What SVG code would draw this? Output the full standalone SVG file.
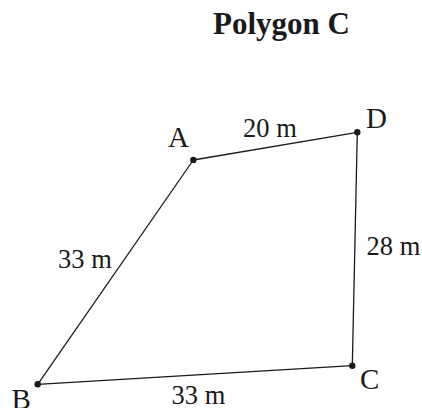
<svg xmlns="http://www.w3.org/2000/svg" width="422" height="408" viewBox="0 0 422 408">
<style>
text{font-family:"Liberation Serif","Times New Roman",serif;fill:#1a1a1a}
.t{font-weight:bold;font-size:31px}
.v{font-size:29px}
.m{font-size:26.5px}
.e{stroke:#1a1a1a;stroke-width:1.3;fill:none}
.d{fill:#1a1a1a}
</style>
<rect width="422" height="408" fill="#fff"/>
<text class="t" x="213" y="34">Polygon C</text>
<g id="connectors">
<line class="e" x1="193.3" y1="160" x2="357.3" y2="132.3"/>
<line class="e" x1="357.3" y1="132.3" x2="352.3" y2="365.7"/>
<line class="e" x1="352.3" y1="365.7" x2="37.7" y2="384.3"/>
<line class="e" x1="37.7" y1="384.3" x2="193.3" y2="160"/>
<text class="m" x="243" y="137">20 m</text>
<text class="m" x="366.5" y="255">28 m</text>
<text class="m" x="171.5" y="404">33 m</text>
<text class="m" x="58" y="268">33 m</text>
</g>
<g id="A"><circle class="d" cx="193.3" cy="160" r="3.2"/><text class="v" x="168" y="147">A</text></g>
<g id="D"><circle class="d" cx="357.3" cy="132.3" r="3.2"/><text class="v" x="366" y="128">D</text></g>
<g id="C"><circle class="d" cx="352.3" cy="365.7" r="3.2"/><text class="v" x="360" y="389">C</text></g>
<g id="B"><circle class="d" cx="37.7" cy="384.3" r="3.2"/><text class="v" x="11.5" y="409">B</text></g>
</svg>
